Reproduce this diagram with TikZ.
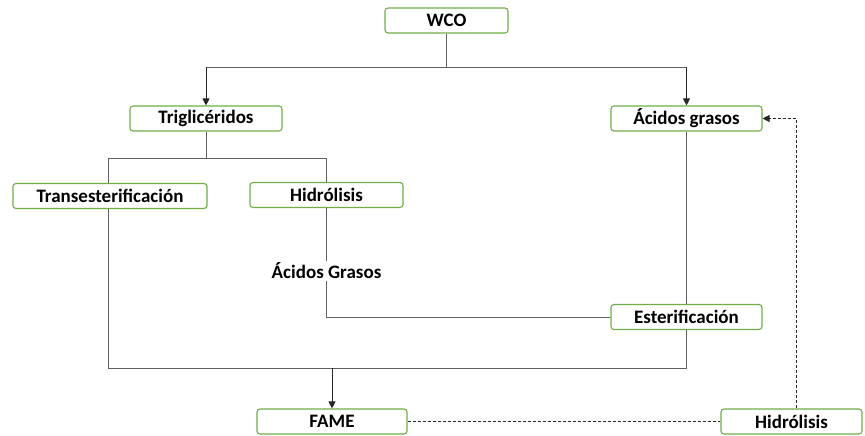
\documentclass[tikz,border=0pt]{standalone}
\usepackage{fontspec}
\setmainfont{Carlito}
\usetikzlibrary{positioning}
\usetikzlibrary{arrows.meta}
\definecolor{boxgreen}{RGB}{112,173,71}
\definecolor{linegray}{RGB}{95,95,95}

\begin{document}
\begin{tikzpicture}[x=1pt,y=-1pt]
    \tikzset{base/.style = {rectangle, rounded corners=3pt, draw=boxgreen, line width=1.1pt,
                           fill=white, minimum height=25pt, inner sep=1pt,
                           text centered, font=\bfseries\fontsize{19}{21}\selectfont}}
    \tikzset{label/.style = {font=\bfseries\fontsize{19}{21}\selectfont, inner sep=2pt}}
    \tikzset{link/.style = {draw=linegray, line width=0.9pt}}
    \tikzset{arrow/.style = {draw=black!85, line width=0.9pt, -{Triangle[width=7pt,length=7pt]}}}
    \tikzset{dashlink/.style = {draw=black!85, line width=0.9pt, dash pattern=on 3pt off 2pt}}

    \useasboundingbox (0,0) rectangle (865,436);

    \node (WCO) [base, minimum width=123pt] at (446.5,20.5) {WCO};
    \node (TG) [base, minimum width=152pt] at (206,118.5) {Triglicéridos};
    \node (AG) [base, minimum width=151pt] at (686.5,118.5) {Ácidos grasos};
    \node (TE) [base, minimum width=194pt] at (110,196) {Transesterificación};
    \node (HI1) [base, minimum width=153pt] at (326.5,195) {Hidrólisis};
    \node (AGl) [label] at (326.5,271) {Ácidos Grasos};
    \node (ES) [base, minimum width=151pt] at (686.5,317) {Esterificación};
    \node (FAME) [base, minimum width=150pt] at (332,421.5) {FAME};
    \node (HI2) [base, minimum width=141pt] at (791.5,421.5) {Hidrólisis};

    % split from WCO
    \coordinate (w1) at (446.5,67);
    \draw[link] (WCO.south) -- (w1);
    \draw[link] (206,67) -- (686.5,67);
    \draw[arrow] (206,67) -- (TG.north);
    \draw[arrow] (686.5,67) -- (AG.north);

    % split from triglycerides
    \coordinate (t1) at (206,158);
    \draw[link] (TG.south) -- (t1);
    \draw[link] (TE.north -| 108,0) |- (t1);
    \draw[link] (HI1.north) |- (t1);

    % fatty acids to esterification
    \draw[link] (HI1.south) -- (AGl.north);
    \draw[link] (AGl.south) |- (ES.west);
    \draw[link] (AG.south) -- (ES.north);

    % collect into FAME
    \coordinate (f1) at (332,368);
    \draw[link] (TE.south -| 108,0) |- (ES.south |- f1) -- (ES.south);
    \draw[arrow] (f1) -- (FAME.north);

    % glycerol loop
    \draw[dashlink] (FAME.east) -- (HI2.west);
    \draw[dashlink, -{Triangle[width=7pt,length=7pt]}] (HI2.north -| 796,0) |- (AG.east);

\end{tikzpicture}
\end{document}
